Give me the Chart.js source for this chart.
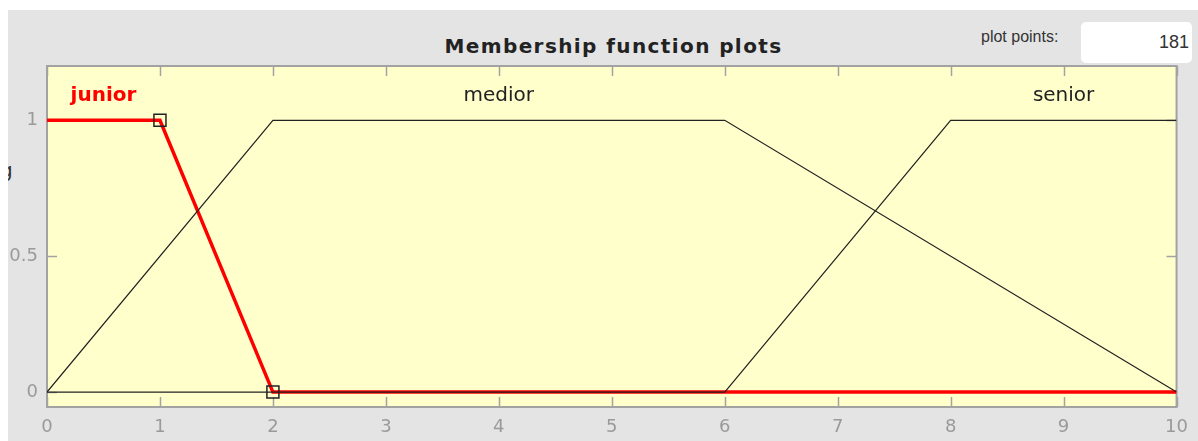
<!DOCTYPE html>
<html>
<head>
<meta charset="utf-8">
<script src="https://cdn.jsdelivr.net/npm/chart.js@4.4.1/dist/chart.umd.min.js"></script>
<style>
  html, body { margin: 0; padding: 0; background: #fff; }
  body { width: 1198px; height: 441px; position: relative; overflow: hidden; }
  #panel { position: absolute; left: 8px; top: 10px; width: 1190px; height: 431px; background: #e4e4e4; overflow: hidden; }
  #ylab { position: absolute; left: -8px; top: 148px; font: 20px "DejaVu Sans"; color: #333; white-space: nowrap; }
  #title { position: absolute; left: 0; width: 1227px; top: 34px; text-align: center; font: bold 20px "DejaVu Sans"; letter-spacing: 1.4px; color: #222; white-space: nowrap; }
  #pplabel { position: absolute; left: 981px; top: 28px; font: 16px "Liberation Sans", Arial, sans-serif; color: #333; }
  #ppbox { position: absolute; left: 1081px; top: 22px; width: 111px; height: 41px; background: #fff; border-radius: 5px; }
  #ppval { position: absolute; right: 3px; top: 10px; font: 18px "Liberation Sans", Arial, sans-serif; color: #333; }
  #chart { position: absolute; left: 0; top: 0; }
</style>
</head>
<body>
<div id="panel"><div id="ylab">g</div></div>
<div id="title">Membership function plots</div>
<div id="pplabel">plot points:</div>
<div id="ppbox"><span id="ppval">181</span></div>
<canvas id="chart" width="1198" height="441"></canvas>
<script>
  "use strict";

  // membership functions (x breakpoints / membership degree)
  const mfNames = ['junior', 'medior', 'senior'];
  const xJunior = [0, 1, 2, 10];
  const yJunior = [1, 1, 0, 0];
  const xMedior = [0, 2, 6, 10];
  const yMedior = [0, 1, 1, 0];
  const xSenior = [0, 6, 8, 10];
  const ySenior = [0, 0, 1, 1];

  const xTicks = [0, 1, 2, 3, 4, 5, 6, 7, 8, 9, 10];
  const yTicks = [0, 0.5, 1];

  const toPts = (xs, ys) => xs.map((x, i) => ({x: x, y: ys[i]}));
  // label sits over the middle of the plateau (where membership is 1)
  const plateauMid = (xs, ys) => {
    const top = xs.filter((x, i) => ys[i] === 1);
    return (top[0] + top[top.length - 1]) / 2;
  };

  const series = [
    {name: mfNames[0], xs: xJunior, ys: yJunior},
    {name: mfNames[1], xs: xMedior, ys: yMedior},
    {name: mfNames[2], xs: xSenior, ys: ySenior}
  ];
  const selected = 0;

  const frame = {
    id: 'frame',
    beforeDatasetsDraw(chart) {
      const c = chart.ctx, a = chart.chartArea;
      const sx = chart.scales.x, sy = chart.scales.y;
      c.save();
      c.fillStyle = '#ffffcc';
      c.fillRect(a.left, a.top, a.right - a.left, a.bottom - a.top);
      c.strokeStyle = '#a2a2a2';
      c.lineWidth = 1.5;
      c.beginPath();
      sx.ticks.forEach(t => {
        const px = Math.round(sx.getPixelForValue(t.value)) + 0.5;
        c.moveTo(px, a.bottom); c.lineTo(px, a.bottom - 10);
        c.moveTo(px, a.top); c.lineTo(px, a.top + 10);
      });
      sy.ticks.forEach(t => {
        const py = Math.round(sy.getPixelForValue(t.value)) + 0.5;
        c.moveTo(a.left, py); c.lineTo(a.left + 10, py);
        c.moveTo(a.right, py); c.lineTo(a.right - 10, py);
      });
      c.stroke();
      c.lineWidth = 2;
      c.strokeRect(a.left, a.top, a.right - a.left, a.bottom - a.top);
      c.restore();
    },
    afterDatasetsDraw(chart) {
      const c = chart.ctx;
      const sx = chart.scales.x, sy = chart.scales.y;
      c.save();
      c.textAlign = 'center';
      c.textBaseline = 'alphabetic';
      series.forEach((s, i) => {
        c.font = (i === selected ? 'bold ' : '') + '20px "DejaVu Sans"';
        c.fillStyle = i === selected ? '#ff0000' : '#222';
        c.fillText(s.name, sx.getPixelForValue(plateauMid(s.xs, s.ys)), sy.getPixelForValue(1.07));
      });
      c.restore();
    }
  };

  const datasets = series.map((s, i) => ({
    label: s.name,
    data: toPts(s.xs, s.ys),
    borderColor: i === selected ? '#ff0000' : '#222',
    borderWidth: i === selected ? 3.5 : 1.2,
    pointStyle: 'rect',
    pointRadius: ctx => (i === selected && ctx.dataIndex > 0 && ctx.dataIndex < s.xs.length - 1) ? 8.5 : 0,
    pointBorderColor: '#222',
    pointBorderWidth: 1.5,
    pointBackgroundColor: 'rgba(0,0,0,0)',
    tension: 0,
    order: i === selected ? 2 : 1
  }));

  new Chart(document.getElementById('chart'), {
    type: 'line',
    data: {datasets: datasets},
    plugins: [frame],
    options: {
      responsive: false,
      animation: false,
      devicePixelRatio: 1,
      events: [],
      layout: {autoPadding: false, padding: {left: 0, top: 66, right: 17, bottom: 0}},
      plugins: {legend: {display: false}, tooltip: {enabled: false}, title: {display: false}},
      scales: {
        x: {
          type: 'linear', min: 0, max: 10,
          afterFit: s => { s.height = 34; },
          afterBuildTicks: s => { s.ticks = xTicks.map(v => ({value: v})); },
          grid: {display: false, drawTicks: false},
          border: {display: false},
          ticks: {color: '#9a9a9a', padding: 10, maxRotation: 0, font: {family: 'DejaVu Sans', size: 18}}
        },
        y: {
          type: 'linear', min: -0.055, max: 1.2,
          afterFit: s => { s.width = 47; },
          afterBuildTicks: s => { s.ticks = yTicks.map(v => ({value: v})); },
          grid: {display: false, drawTicks: false},
          border: {display: false},
          ticks: {color: '#9a9a9a', padding: 9, font: {family: 'DejaVu Sans', size: 18}, callback: v => String(v)}
        }
      }
    }
  });
</script>
</body>
</html>
